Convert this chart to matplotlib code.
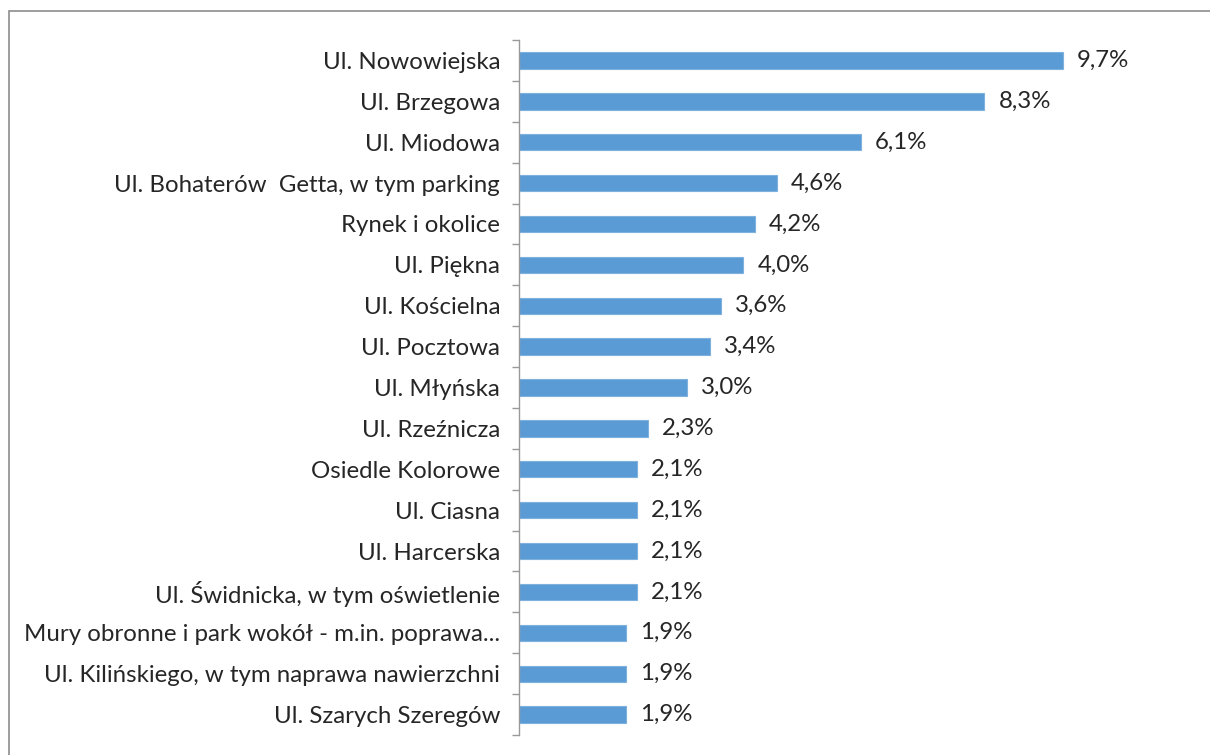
import matplotlib
matplotlib.use("Agg")
import matplotlib.pyplot as plt
from matplotlib.patches import Rectangle

categories = [
    "Ul. Nowowiejska",
    "Ul. Brzegowa",
    "Ul. Miodowa",
    "Ul. Bohaterów  Getta, w tym parking",
    "Rynek i okolice",
    "Ul. Piękna",
    "Ul. Kościelna",
    "Ul. Pocztowa",
    "Ul. Młyńska",
    "Ul. Rzeźnicza",
    "Osiedle Kolorowe",
    "Ul. Ciasna",
    "Ul. Harcerska",
    "Ul. Świdnicka, w tym oświetlenie",
    "Mury obronne i park wokół - m.in. poprawa...",
    "Ul. Kilińskiego, w tym naprawa nawierzchni",
    "Ul. Szarych Szeregów",
]
values = [9.7, 8.3, 6.1, 4.6, 4.2, 4.0, 3.6, 3.4, 3.0, 2.3, 2.1, 2.1, 2.1, 2.1, 1.9, 1.9, 1.9]
value_labels = ["9,7%", "8,3%", "6,1%", "4,6%", "4,2%", "4,0%", "3,6%", "3,4%", "3,0%",
                "2,3%", "2,1%", "2,1%", "2,1%", "2,1%", "1,9%", "1,9%", "1,9%"]

plt.rcParams['font.family'] = ['Lato', 'DejaVu Sans']

W, H = 1210, 755
FS = 17.3
fig = plt.figure(figsize=(W / 100, H / 100), dpi=100)
fig.patch.set_facecolor('white')

# outer frame
fig.add_artist(Rectangle((9 / W, -0.01), 1.1, 1 - 11 / H + 0.01, transform=fig.transFigure,
                         fill=False, edgecolor='#8c8c8c', linewidth=1.2))

ax = fig.add_axes([519 / W, 1 - 735 / H, (1192 - 519) / W, (735 - 40) / H])
n = len(categories)
ypos = list(range(n))
ax.barh(ypos, values, height=0.4, color='#5b9bd5', edgecolor='#7fb1de', linewidth=0.8)
ax.set_ylim(n - 0.5, -0.5)
ax.set_xlim(0, 12)

ax.set_yticks(ypos)
ax.set_yticklabels(categories, fontsize=FS, color='#262626')
ax.tick_params(axis='y', which='major', length=0, pad=13.5)
ax.set_yticks([i - 0.5 for i in range(n + 1)], minor=True)
ax.tick_params(axis='y', which='minor', length=5, color='#999999', width=1)
ax.set_xticks([])

for s in ['top', 'right', 'bottom']:
    ax.spines[s].set_visible(False)
ax.spines['left'].set_color('#999999')
ax.spines['left'].set_linewidth(1)

for y, v, lab in zip(ypos, values, value_labels):
    ax.text(v + 0.25, y, lab, va='center', ha='left', fontsize=FS, color='#262626')

fig.savefig("out.png", dpi=100)
